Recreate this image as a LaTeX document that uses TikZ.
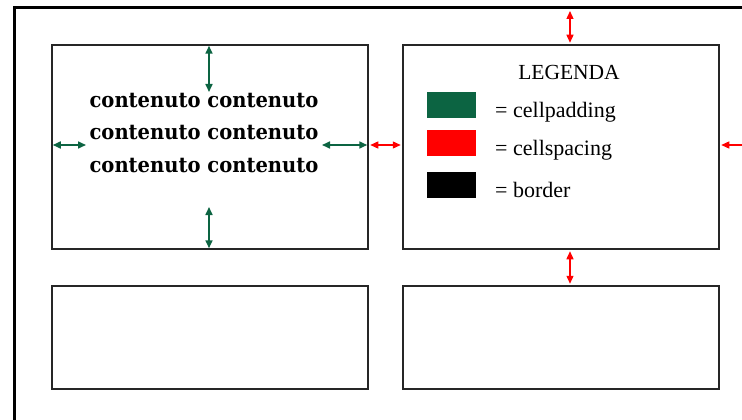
\documentclass[tikz,border=0pt]{standalone}
\usepackage{fontspec}
\setmainfont{Liberation Serif}
\newfontfamily\cellfont[FakeStretch=0.93]{DejaVu Serif}
\usetikzlibrary{arrows.meta}
\definecolor{padgreen}{RGB}{12,100,66}
\definecolor{spacered}{RGB}{255,0,0}
\tikzset{
  cell/.style={draw=black!85, line width=1.5pt, minimum width=316pt, minimum height=204pt, inner sep=0pt},
  lowcell/.style={cell, minimum height=103pt},
  padarrow/.style={padgreen, line width=1.6pt, {Triangle[length=8pt,width=7pt]}-{Triangle[length=8pt,width=7pt]}},
  spacearrow/.style={spacered, line width=1.3pt, {Triangle[length=8pt,width=7pt]}-{Triangle[length=8pt,width=7pt]}},
  swatch/.style={minimum width=49pt, minimum height=26pt, inner sep=0pt},
  legtext/.style={anchor=west, font=\fontsize{22}{24}\selectfont, inner sep=0pt}
}
\begin{document}
\begin{tikzpicture}[x=1pt, y=-1pt]
\useasboundingbox (0,0) rectangle (742,420);
\draw[line width=3pt] (14,420) -- (14,8) -- (742,8); % table border

\node[cell] (c1) at (210,147) {}; % top left cell
\node[cell] (c2) at (561,147) {}; % top right cell
\node[lowcell] (c3) at (210,337.5) {}; % bottom left cell
\node[lowcell] (c4) at (561,337.5) {}; % bottom right cell

\node[align=center, font=\cellfont\bfseries\fontsize{21}{32.5}\selectfont] (content) at (204,133)
  {contenuto contenuto\\contenuto contenuto\\contenuto contenuto}; % cell content

% cellpadding
\coordinate (padtop) at (209,92);
\coordinate (padbot) at (209,207);
\coordinate (padleft) at (86,145);
\coordinate (padright) at (322,145);
\draw[padarrow, shorten <=1.5pt] (c1.north -| padtop) -- (padtop);
\draw[padarrow, shorten >=1.5pt] (padbot) -- (c1.south -| padbot);
\draw[padarrow, shorten <=1.5pt] (c1.west |- padleft) -- (padleft);
\draw[padarrow, shorten >=1.5pt] (padright) -- (c1.east |- padright);

% cellspacing
\coordinate (tabletop) at (570,9.5);
\coordinate (tableright) at (742,145);
\draw[spacearrow, shorten <=1.5pt, shorten >=1.5pt] (c1.east |- tableright) -- (c2.west |- tableright);
\draw[spacearrow, shorten <=1.5pt, shorten >=1.5pt] (tabletop) -- (c2.north -| tabletop);
\draw[spacearrow, shorten <=1.5pt, shorten >=1.5pt] (c2.south -| tabletop) -- (c4.north -| tabletop);
\draw[spacered, line width=1.3pt, -{Triangle[length=8pt,width=7pt]}, shorten >=1.5pt] (tableright) -- (c2.east |- tableright);

% legend
\node[font=\fontsize{21.5}{24}\selectfont] (legend) at (569,72) {LEGENDA};
\node[swatch, fill=padgreen] (swpad) at (451.5,105) {};
\node[swatch, fill=spacered] (swspace) at (451.5,143) {};
\node[swatch, fill=black] (swborder) at (451.5,184.5) {};
\node[legtext] (lpad) at (495,112) {= cellpadding};
\node[legtext] (lspace) at (495,150) {= cellspacing};
\node[legtext] (lborder) at (495,190) {= border};
\end{tikzpicture}
\end{document}
